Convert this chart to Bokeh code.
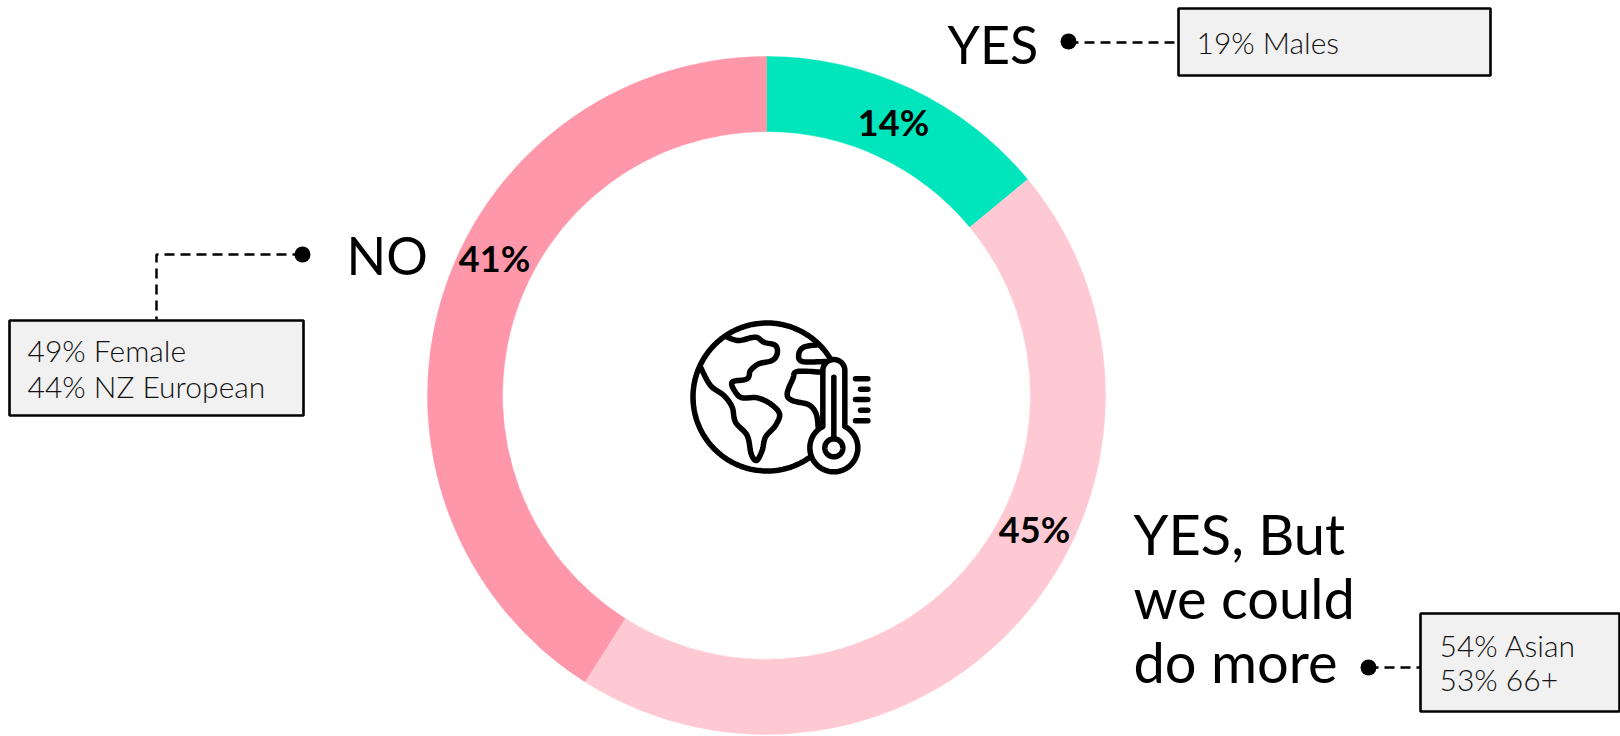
import numpy as np
from bokeh.plotting import figure
from bokeh.models import Range1d
from bokeh.core.properties import value
from bokeh.embed import file_html
from bokeh.resources import INLINE

categories = ["YES", "YES, But we could do more", "NO"]
shares = [14, 45, 41]
colors = ["#00E5BC", "#FFC9D3", "#FF97AA"]
share_labels = ["14%", "45%", "41%"]

W, H = 1620, 736
TEXT = "#000000"
FONT = "Lato"
LIGHT = "Lato Light"

def Y(v):
    return 736 - np.asarray(v, dtype=float)

p = figure(width=W, height=H, output_backend="svg", toolbar_location=None,
           x_range=Range1d(0, W), y_range=Range1d(0, H),
           min_border=0, outline_line_color=None, background_fill_color="white",
           border_fill_color="white")
p.axis.visible = False
p.grid.visible = False

# ring
cx, cy, r_in, r_out = 766, 395, 264, 339
cum = np.cumsum([0] + shares) / sum(shares)
starts = np.pi / 2 - 2 * np.pi * cum[1:]
ends = np.pi / 2 - 2 * np.pi * cum[:-1]
p.annular_wedge(x=[cx] * 3, y=[float(Y(cy))] * 3, inner_radius=r_in, outer_radius=r_out,
                start_angle=starts.tolist(), end_angle=ends.tolist(),
                fill_color=colors, line_color=colors, line_width=0.5)

# share labels
p.text(x=[893, 1034, 494], y=Y([121, 528, 257]).tolist(), text=share_labels,
       text_font=value(FONT), text_font_style="bold", text_font_size="36px",
       text_align="center", text_baseline="middle", text_color=TEXT)

# headings
p.text(x=[947, 346], y=Y([43.5, 254]).tolist(), text=["YES", "NO"],
       text_font=value(FONT), text_font_size="52px",
       text_align="left", text_baseline="middle", text_color=TEXT)
p.text(x=[1133, 1133, 1133], y=Y([533, 597, 661]).tolist(),
       text=["YES, But", "we could", "do more"],
       text_font=value(FONT), text_font_size="56px",
       text_align="left", text_baseline="middle", text_color=TEXT)

# callout connectors
DASH = "10 6"
for xs, ys in [([1068, 1178], [42, 42]),
               ([302, 156, 156], [254, 254, 319]),
               ([1368, 1420], [667, 667])]:
    p.line(xs, Y(ys).tolist(), line_color="black", line_width=2.5, line_dash=DASH)
p.scatter(x=[1068, 302, 1368], y=Y([41, 254, 667]).tolist(), size=16,
          fill_color="black", line_color="black", line_width=0)

# boxes
for l, t, r, b in [(1178, 8, 1490, 75), (9, 320, 303, 415), (1420, 613, 1619, 711)]:
    p.quad(left=l, right=r, top=float(Y(t)), bottom=float(Y(b)),
           fill_color="#F1F1F1", line_color="black", line_width=2.6)

p.text(x=[1196, 27, 27, 1439, 1439], y=Y([41.5, 349.5, 385, 644, 678]).tolist(),
       text=["19% Males", "49% Female", "44% NZ European", "54% Asian", "53% 66+"],
       text_font=value(LIGHT), text_font_size="30px",
       text_align="left", text_baseline="middle", text_color="#111111")

# icon -------------------------------------------------------------------
def smooth(pts, n=10):
    pts = np.asarray(pts, dtype=float)
    q = np.vstack([pts[0], pts, pts[-1]])
    out = []
    for i in range(1, len(q) - 2):
        for t in np.linspace(0, 1, n, endpoint=False):
            a, b, c, d = q[i - 1], q[i], q[i + 1], q[i + 2]
            out.append(0.5 * (2 * b + (c - a) * t + (2 * a - 5 * b + 4 * c - d) * t ** 2
                              + (3 * b - a - 3 * c + d) * t ** 3))
    out.append(pts[-1])
    return np.array(out)

LW = 5.5
def stroke(xy, **kw):
    p.line(xy[:, 0].tolist(), Y(xy[:, 1]).tolist(), line_color="black", line_width=kw.get("w", LW),
           line_cap="round", line_join="round")

def z7(pts):
    return [(680 + x / 3, 310 + y / 3) for x, y in pts]

def z5(pts):
    return [(775 + x / 3, 335 + y / 3) for x, y in pts]

gcx, gcy, gr = 766.5, 396.5, 74
th = np.linspace(0, 2 * np.pi, 200)
stroke(np.c_[gcx + gr * np.cos(th), gcy + gr * np.sin(th)])

stroke(smooth(z7([(140, 80), (175, 90), (225, 80), (250, 95), (285, 105), (290, 130), (275, 150),
                  (235, 160), (210, 180), (200, 205), (155, 215), (165, 245), (185, 262),
                  (230, 262), (270, 280), (297, 310), (285, 345), (255, 380), (245, 420),
                  (228, 450), (212, 430), (200, 375), (165, 335), (155, 290), (130, 255),
                  (90, 225), (60, 170)])))
stroke(smooth(z5([(125, 28), (85, 35), (70, 55), (80, 78), (150, 78)])))
stroke(smooth(z5([(135, 110), (65, 108), (52, 130), (35, 175), (50, 195), (100, 208),
                  (122, 235), (128, 275)])))

# thermometer
tx, ty = 775 + 175 / 3, 335 + 337 / 3
tr, tw, tt = 24, 11, 335 + 105 / 3
a0 = np.arcsin(tw / tr)
bulb = np.linspace(-np.pi / 2 + a0, 3 * np.pi / 2 - a0, 80)
top = np.linspace(np.pi, 2 * np.pi, 30)
outline = np.vstack([np.c_[tx + tr * np.cos(bulb), ty + tr * np.sin(bulb)],
                     np.c_[tx + tw * np.cos(top), tt + tw * np.sin(top)]])
outline = np.vstack([outline, outline[0]])
p.patch(outline[:, 0].tolist(), Y(outline[:, 1]).tolist(), fill_color="white",
        line_color="black", line_width=LW, line_join="round")
stroke(np.c_[[tx, tx], [335 + 125 / 3, 335 + 310 / 3]])
ri = 9
stroke(np.c_[tx + ri * np.cos(th), ty + ri * np.sin(th)])
for xa, ya in [(240, 130), (255, 161), (240, 192), (255, 224), (240, 256)]:
    stroke(np.array([[775 + xa / 3, 335 + ya / 3], [775 + 277 / 3, 335 + ya / 3]]))

open("out.html", "w").write(file_html(p, INLINE))
